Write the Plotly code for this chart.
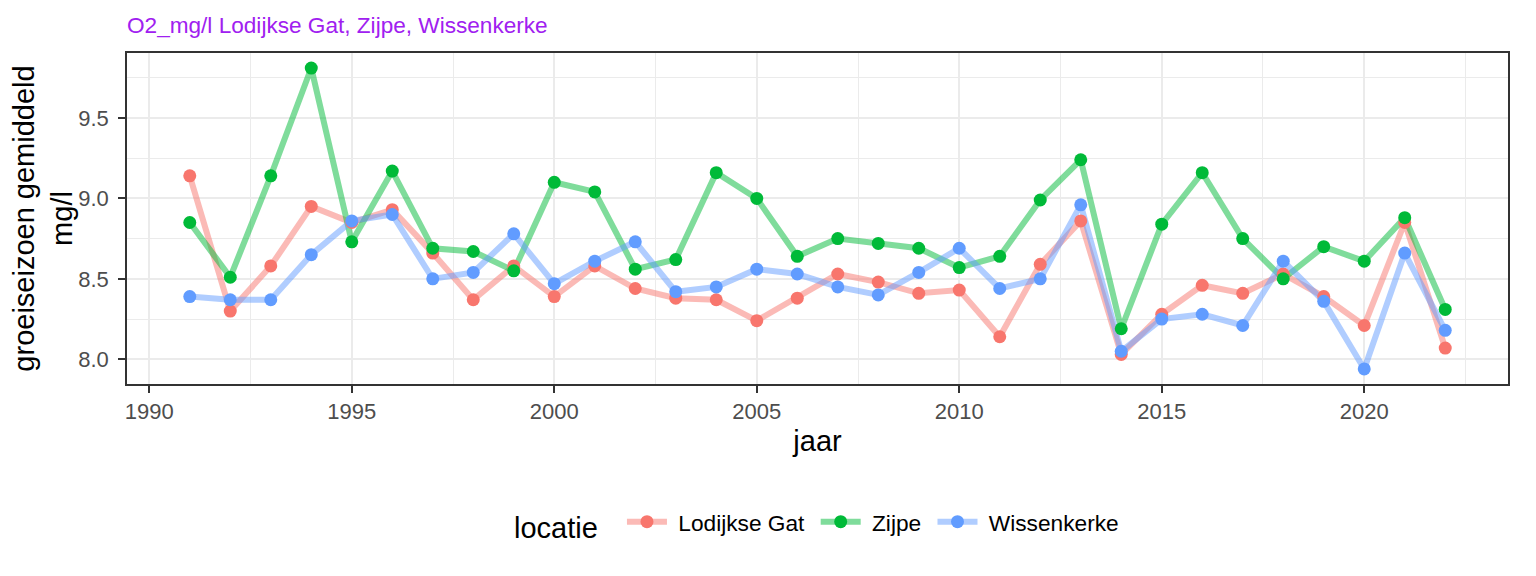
import plotly.graph_objects as go

# jaren (x-as)
jaar = [1991, 1992, 1993, 1994, 1995, 1996, 1997, 1998, 1999, 2000,
        2001, 2002, 2003, 2004, 2005, 2006, 2007, 2008, 2009, 2010,
        2011, 2012, 2013, 2014, 2015, 2016, 2017, 2018, 2019, 2020,
        2021, 2022]

# O2 mg/l, groeiseizoen gemiddeld
lodijkse_gat = [9.14, 8.30, 8.58, 8.95, 8.85, 8.93, 8.66, 8.37, 8.58, 8.39,
                8.58, 8.44, 8.38, 8.37, 8.24, 8.38, 8.53, 8.48, 8.41, 8.43,
                8.14, 8.59, 8.86, 8.03, 8.28, 8.46, 8.41, 8.53, 8.39, 8.21,
                8.85, 8.07]
zijpe = [8.85, 8.51, 9.14, 9.81, 8.73, 9.17, 8.69, 8.67, 8.55, 9.10,
         9.04, 8.56, 8.62, 9.16, 9.00, 8.64, 8.75, 8.72, 8.69, 8.57,
         8.64, 8.99, 9.24, 8.19, 8.84, 9.16, 8.75, 8.50, 8.70, 8.61,
         8.88, 8.31]
wissenkerke = [8.39, 8.37, 8.37, 8.65, 8.86, 8.90, 8.50, 8.54, 8.78, 8.47,
               8.61, 8.73, 8.42, 8.45, 8.56, 8.53, 8.45, 8.40, 8.54, 8.69,
               8.44, 8.50, 8.96, 8.05, 8.25, 8.28, 8.21, 8.61, 8.36, 7.94,
               8.66, 8.18]

locaties = ["Lodijkse Gat", "Zijpe", "Wissenkerke"]
reeksen = [lodijkse_gat, zijpe, wissenkerke]
kleuren = ["248,118,109", "0,186,56", "97,156,255"]

FONT = "Liberation Sans, Arial, sans-serif"
NBSP = "\u00a0"

# de pagina heeft 8px body-marge; figuur iets kleiner zodat alles binnen 1536x576 valt
W, H = 1520, 560

fig = go.Figure()

# lijnen eerst (alpha 0.5), zodat alle punten erboven liggen
for naam, waarden, rgb in zip(locaties, reeksen, kleuren):
    fig.add_trace(go.Scatter(
        x=jaar, y=waarden, mode="lines",
        line=dict(color=f"rgba({rgb},0.5)", width=6),
        showlegend=False, hoverinfo="skip",
    ))

# punten
for naam, waarden, rgb in zip(locaties, reeksen, kleuren):
    fig.add_trace(go.Scatter(
        x=jaar, y=waarden, mode="markers",
        marker=dict(color=f"rgb({rgb})", size=13),
        showlegend=False, name=naam,
    ))

# legenda-items (lijn + punt)
for naam, rgb in zip(locaties, kleuren):
    fig.add_trace(go.Scatter(
        x=[None], y=[None], mode="lines+markers", name=NBSP + naam + NBSP,
        line=dict(color=f"rgba({rgb},0.5)", width=6),
        marker=dict(color=f"rgb({rgb})", size=13),
    ))

alle = lodijkse_gat + zijpe + wissenkerke
ymin, ymax = min(alle), max(alle)
ypad = (ymax - ymin) * 0.05
xpad = (jaar[-1] - jaar[0]) * 0.05

as_stijl = dict(
    showline=True, mirror=True, linecolor="#333333", linewidth=1.6,
    ticks="outside", ticklen=7, tickwidth=1.6, tickcolor="#333333",
    tickfont=dict(family=FONT, size=22, color="#4D4D4D"),
    showgrid=True, gridcolor="#EBEBEB", gridwidth=2,
    zeroline=False,
)

fig.update_layout(
    width=W, height=H,
    plot_bgcolor="white", paper_bgcolor="white",
    margin=dict(l=119, r=20, t=45, b=184),
    font=dict(family=FONT, color="black"),
    title=dict(
        text="O2_mg/l Lodijkse Gat, Zijpe, Wissenkerke",
        font=dict(family=FONT, size=22.6, color="#A020F0"),
        x=119 / W, xanchor="left", xref="container",
        y=1 - 17.5 / H, yanchor="middle", yref="container",
    ),
    xaxis=dict(
        range=[jaar[0] - xpad, jaar[-1] + xpad],
        tick0=1990, dtick=5,
        minor=dict(dtick=2.5, tick0=1990, showgrid=True,
                   gridcolor="#EBEBEB", gridwidth=1, ticks=""),
        title=dict(text="jaar", font=dict(family=FONT, size=29),
                   standoff=7),
        **as_stijl,
    ),
    yaxis=dict(
        range=[ymin - ypad, ymax + ypad],
        tick0=8.0, dtick=0.5, tickformat=".1f",
        ticklabelstandoff=5,
        minor=dict(dtick=0.25, tick0=8.0, showgrid=True,
                   gridcolor="#EBEBEB", gridwidth=1, ticks=""),
        title=dict(text="groeiseizoen gemiddeld<br>mg/l",
                   font=dict(family=FONT, size=29), standoff=0),
        **as_stijl,
    ),
    legend=dict(
        orientation="h",
        x=0.2788, xanchor="left",
        y=-(525 - 384.3) / 331.6, yanchor="middle",
        itemwidth=40,
        title=dict(text="locatie" + NBSP + NBSP,
                   font=dict(family=FONT, size=29)),
        font=dict(family=FONT, size=22.7, color="black"),
        bgcolor="rgba(0,0,0,0)",
    ),
)

fig.write_html("out.html")
